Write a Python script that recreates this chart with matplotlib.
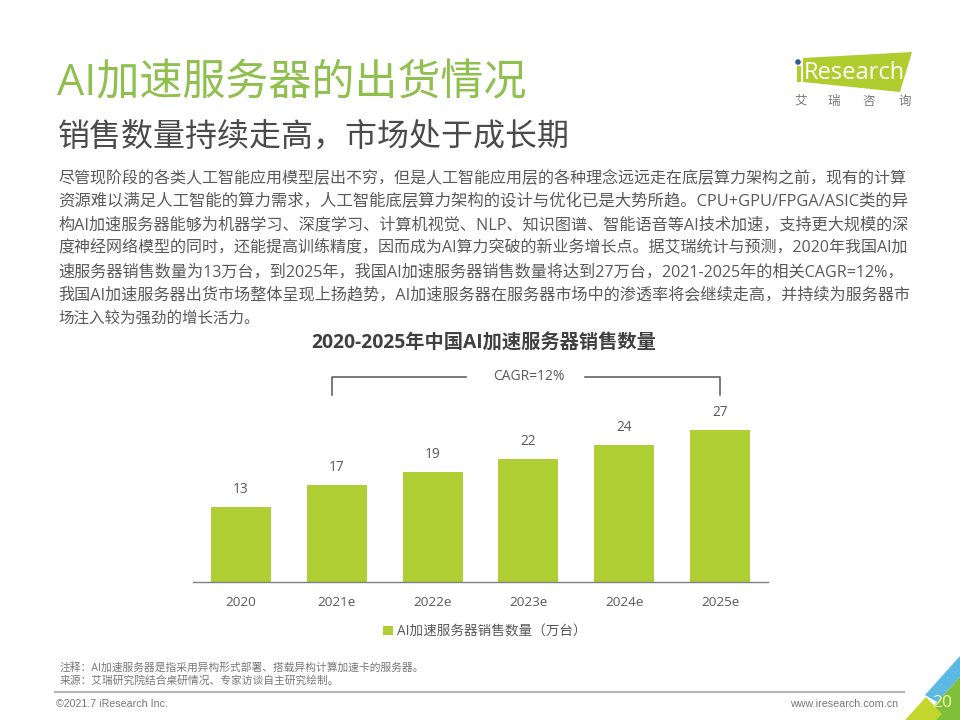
import matplotlib
matplotlib.use('Agg')
import matplotlib.pyplot as plt
from matplotlib.patches import Polygon, Circle, Rectangle

plt.rcParams['font.family'] = ['Open Sans', 'Noto Sans CJK SC', 'DejaVu Sans']

W = 960
H = 720

years = ['2020', '2021e', '2022e', '2023e', '2024e', '2025e']
# bar heights, printed labels are the rounded values
sales = [13.2, 17.1, 19.4, 21.7, 24.1, 26.8]
sales_labels = ['13', '17', '19', '22', '24', '27']
series_name = 'AI加速服务器销售数量（万台）'
chart_title = '2020-2025年中国AI加速服务器销售数量'

body_lines = [
    '尽管现阶段的各类人工智能应用模型层出不穷，但是人工智能应用层的各种理念远远走在底层算力架构之前，现有的计算',
    '资源难以满足人工智能的算力需求，人工智能底层算力架构的设计与优化已是大势所趋。CPU+GPU/FPGA/ASIC类的异',
    '构AI加速服务器能够为机器学习、深度学习、计算机视觉、NLP、知识图谱、智能语音等AI技术加速，支持更大规模的深',
    '度神经网络模型的同时，还能提高训练精度，因而成为AI算力突破的新业务增长点。据艾瑞统计与预测，2020年我国AI加',
    '速服务器销售数量为13万台，到2025年，我国AI加速服务器销售数量将达到27万台，2021-2025年的相关CAGR=12%，',
    '我国AI加速服务器出货市场整体呈现上扬趋势，AI加速服务器在服务器市场中的渗透率将会继续走高，并持续为服务器市',
    '场注入较为强劲的增长活力。',
]
body_y = [179, 202, 225, 248, 272, 295, 319]

GREEN = '#B0CF35'
TITLE_GREEN = '#8FC04E'
TEXT = '#595959'

fig = plt.figure(figsize=(9.6, 7.2), dpi=100)

# page layer in pixel coordinates
page = fig.add_axes([0, 0, 1, 1])
page.set_xlim(0, W)
page.set_ylim(H, 0)
page.axis('off')

page.text(57, 84, 'AI加速服务器的出货情况', fontsize=31, color=TITLE_GREEN, va='center')
page.text(58, 137, '销售数量持续走高，市场处于成长期', fontsize=23, color='#4A4A4A', va='center')

# body text, each line stretched to the right margin like the justified original
renderer = fig.canvas.get_renderer()
for i, line in enumerate(body_lines):
    t = page.text(58, body_y[i], line, fontsize=10.5, color=TEXT, va='center')
    if i < len(body_lines) - 1:
        w = t.get_window_extent(renderer).width
        t.set_fontsize(10.5 * 852 / w)
    else:
        t.set_fontsize(11.2)

page.text(483.5, 344, chart_title, fontsize=13.85, fontweight='bold', color='#404040',
          ha='center', va='center')

# CAGR bracket
page.plot([331.5, 331.5, 466], [395, 376.5, 376.5], color='#555555', lw=1.1)
page.plot([585, 720, 720], [376.5, 376.5, 395], color='#555555', lw=1.1)
page.text(528.5, 376, 'CAGR=12%', fontsize=10, color=TEXT, ha='center', va='center')

# logo
page.add_patch(Polygon([(803, 58), (912, 52), (900, 92), (803, 82)], color='#B0CC2E', lw=0))
page.add_patch(Rectangle((797, 66), 4, 16, color='#B0CC2E', lw=0))
page.add_patch(Circle((798, 62), 2.8, color='#2F5C8F', lw=0))
page.text(804, 73, 'Research', fontsize=17, color='white', va='center')
for x, ch in zip([801, 834, 869, 905], '艾瑞咨询'):
    page.text(x, 101, ch, fontsize=9, color='#777777', ha='center', va='center')

# footer
page.plot([55, 904], [692, 692], color='#B5B5B5', lw=1.5)
page.text(60, 668, '注释：AI加速服务器是指采用异构形式部署、搭载异构计算加速卡的服务器。',
          fontsize=7.72, color='#777777', va='center')
page.text(60, 681, '来源：艾瑞研究院结合桌研情况、专家访谈自主研究绘制。',
          fontsize=7.72, color='#777777', va='center')
page.text(56, 704, '©2021.7 iResearch Inc.', fontsize=7.7, color='#777777', va='center',
          family='Liberation Sans')
page.text(790, 704, 'www.iresearch.com.cn', fontsize=7.75, color='#777777', va='center',
          family='Liberation Sans')

# corner decoration
page.add_patch(Polygon([(925, 695), (960, 656), (960, 677), (937, 702)], color='#5BB9E4', lw=0))
page.add_patch(Polygon([(937, 702), (960, 677), (960, 720), (921, 720)], color='#7FBF3A', lw=0))
page.add_patch(Polygon([(905, 720), (926, 697), (942, 714), (936, 720)], color='#C3D62E', lw=0))
page.text(942, 703, '20', fontsize=12.5, color='#EEF6B0', ha='center', va='center')

# bar chart
ax = fig.add_axes([193 / W, 1 - 582 / H, 575 / W, 152.5 / H])
ax.patch.set_alpha(0)
bars = ax.bar(years, sales, width=0.625, color=GREEN, label=series_name)
ax.bar_label(bars, labels=sales_labels, padding=7, fontsize=9.9, color=TEXT)
ax.set_xlim(-0.5, 5.5)
ax.set_ylim(0, 26.8)
ax.set_yticks([])
for side in ['top', 'left', 'right']:
    ax.spines[side].set_visible(False)
ax.spines['bottom'].set_color('#808080')
ax.spines['bottom'].set_linewidth(1.0)
ax.tick_params(axis='x', length=0, pad=10, labelsize=9.7, labelcolor=TEXT)

ax.legend(loc='center', bbox_to_anchor=(0.508, -0.325), frameon=False, fontsize=9.8,
          labelcolor=TEXT, handlelength=0.7, handleheight=0.7, handletextpad=0.3)

fig.savefig('out.png', dpi=100)
